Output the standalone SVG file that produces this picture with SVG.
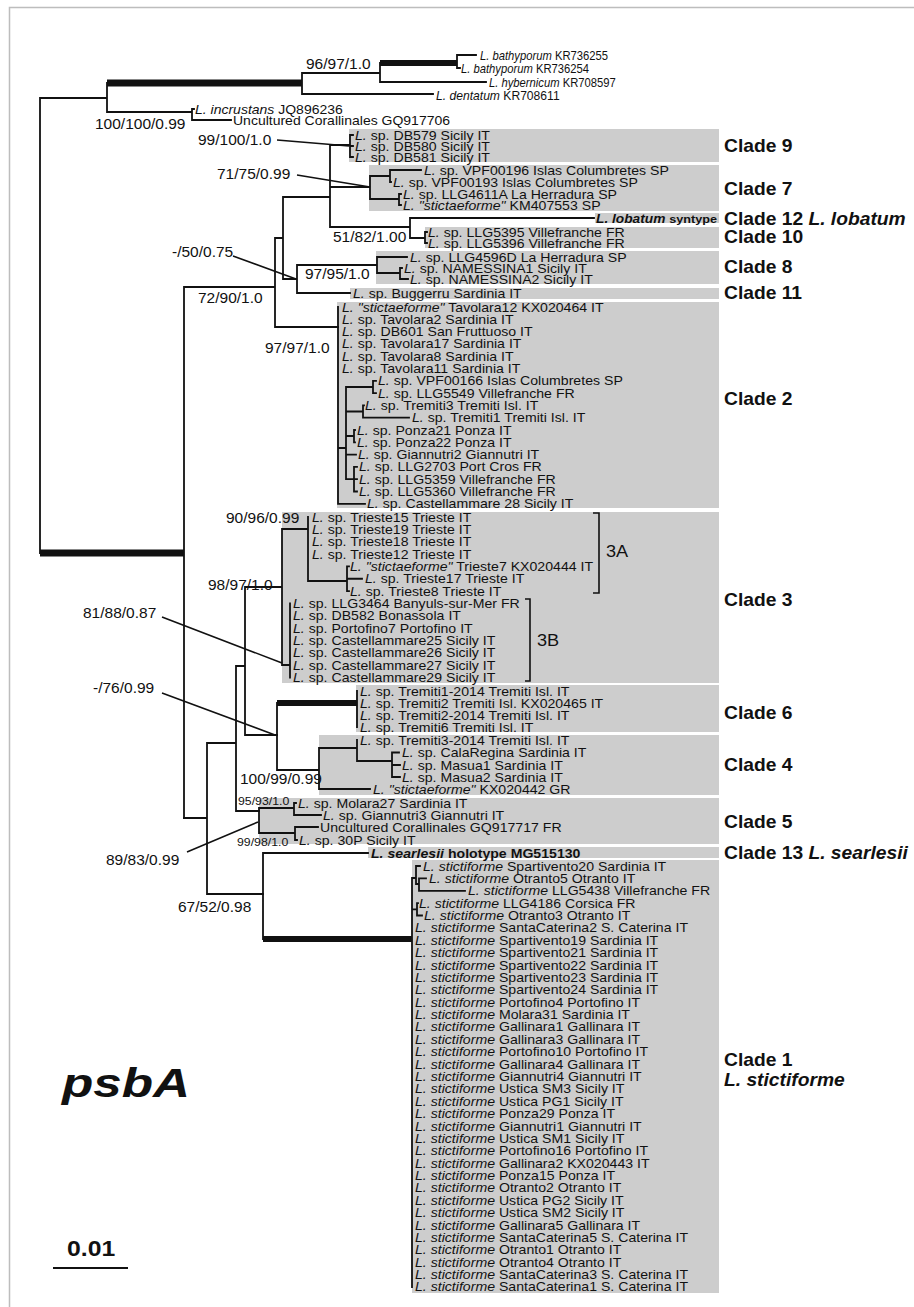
<svg xmlns="http://www.w3.org/2000/svg" width="914" height="1307" viewBox="0 0 914 1307">
<style>
text{font-family:"Liberation Sans",Arial,Helvetica,sans-serif;fill:#111}
.t{font-size:12.5px}
.i{font-style:italic}
.b{font-weight:bold}
.n{font-size:14.5px}
.ns{font-size:11.5px}
.c{font-size:17.5px;font-weight:bold}
.box{fill:#cdcdcd}
.br{fill:none;stroke:#111;stroke-width:1.8;stroke-linecap:square}
.thick{fill:none;stroke:#111;stroke-linecap:butt}
.ptr{fill:none;stroke:#111;stroke-width:1.6}
</style>
<rect x="0" y="0" width="914" height="1307" fill="#fff"/>
<path d="M9.5 1307V7.5H914" fill="none" stroke="#bdbdbd" stroke-width="1.5"/>

<g id="boxes">
<rect class="box" x="349" y="129" width="370" height="33"/>
<rect class="box" x="369" y="165" width="350" height="46"/>
<rect class="box" x="595" y="213" width="124" height="10"/>
<rect class="box" x="425" y="227" width="294" height="21"/>
<rect class="box" x="376" y="251" width="343" height="33"/>
<rect class="box" x="350" y="288" width="369" height="11"/>
<rect class="box" x="337" y="302" width="382" height="206"/>
<rect class="box" x="282" y="512" width="437" height="171"/>
<rect class="box" x="356" y="685" width="363" height="47"/>
<rect class="box" x="319" y="735" width="400" height="60"/>
<rect class="box" x="259" y="798" width="460" height="46"/>
<rect class="box" x="368" y="847" width="351" height="11"/>
<rect class="box" x="412" y="860" width="307" height="433"/>
</g>

<g id="connectors">
<path class="br" d="M40 98V553M40 98H107M107 83V112M107 112H192M192 109V120M192 109H194M192 120H231M302 73V94M302 73H380M302 94H433M380 63V82M380 82H486M457 55V68M457 55H476M457 68H460"/>
<path class="br" d="M184 287V818M184 287H275M275 238V327M275 238H283M275 327H338M283 197V279M283 197H330M283 279H297M330 145V227M330 145H350M330 187H370M330 227H410M350 135V157M350 135H353M350 146H353M350 157H353M370 176V199M370 176H390M370 199H399M390 170V182M390 170H421M390 182H391M399 194V205M399 194H401M399 205H401M410 218V238M410 218H594M410 238H425M425 232V243M425 232H427M425 243H427M297 265V293M297 265H377M297 293H350M377 257V273M377 257H407M377 273H400M400 268V279M400 268H402M400 279H408"/>
<path class="br" d="M338 307V503.8M338 503.8H365M338 448H346M346 387V479.2M346 387H373M346 411.5H363M346 436H354M346 454.6H356M346 479.2H354M373 380.8V393.1M373 380.8H376M373 393.1H376M363 405.4V417.7M363 405.4H364M363 417.7H409M354 430V442.3M354 430H355M354 442.3H355M354 466.9V491.5M354 466.9H357M354 479.2H357M354 491.5H357"/>
<path class="br" d="M184 818H207M207 743V894M207 743H236M207 894H263M236 666V811M236 666H245M236 811H259M245 587V735M245 587H282M245 735H277M282 529V665M282 529H308M282 665H290M308 517V581M308 581H347M347 566.4V591.1M347 566.4H349M347 578.75H362M347 591.1H349M290 603.45V677.55"/>
<path class="br" d="M277 703V770M277 770H319M357 691V727M319 748V789M319 748H357M319 789H370M357 740V761M357 761H392M392 752.5V777M392 752.5H399M392 765H400M392 777H400M259 808V833M259 808H294M259 833H295M294 803V815M294 803H296M294 815H321M295 827V840M295 827H318M295 840H297M263 853V939M263 853H368M412 878V1287M412 878H416M412 909.3H417M416 866V884M416 866H420M416 884H419M419 878.4V890.8M419 878.4H426M419 890.8H465M417 903.1V915.5M417 903.1H418M417 915.5H422"/>
<path class="thick" stroke-width="7" d="M107 83H302M40 553H184"/>
<path class="thick" stroke-width="6" d="M380 63H457M277 703H357M263 939H412"/>
<path class="ptr" d="M277 140L349 146M297 175L370 187M233 256L296 279M162 617L282 663M162 693L275 735M187 852L258 822"/>
<path class="ptr" stroke-width="1.5" d="M593 513H599V593H593M525 599H530V681H525"/>
<path d="M53 1268H128" stroke="#111" stroke-width="2.2"/>
</g>

<g id="support">
<text class="n" transform="translate(306 69) scale(1.07 1)">96/97/1.0</text>
<text class="n" transform="translate(95 129) scale(1.07 1)">100/100/0.99</text>
<text class="n" transform="translate(198 145) scale(1.07 1)">99/100/1.0</text>
<text class="n" transform="translate(217 179) scale(1.07 1)">71/75/0.99</text>
<text class="n" transform="translate(333 242) scale(1.07 1)">51/82/1.00</text>
<text class="n" transform="translate(172 257) scale(1.07 1)">-/50/0.75</text>
<text class="n" transform="translate(305 279) scale(1.07 1)">97/95/1.0</text>
<text class="n" transform="translate(198 303) scale(1.07 1)">72/90/1.0</text>
<text class="n" transform="translate(265 353) scale(1.07 1)">97/97/1.0</text>
<text class="n" transform="translate(226 523) scale(1.07 1)">90/96/0.99</text>
<text class="n" transform="translate(208 590) scale(1.07 1)">98/97/1.0</text>
<text class="n" transform="translate(83 618) scale(1.07 1)">81/88/0.87</text>
<text class="n" transform="translate(93 693) scale(1.07 1)">-/76/0.99</text>
<text class="n" transform="translate(240 784) scale(1.07 1)">100/99/0.99</text>
<text class="ns" transform="translate(238 805) scale(1.07 1)">95/93/1.0</text>
<text class="ns" transform="translate(237 846) scale(1.07 1)">99/98/1.0</text>
<text class="n" transform="translate(106 865) scale(1.07 1)">89/83/0.99</text>
<text class="n" transform="translate(178 912) scale(1.07 1)">67/52/0.98</text>
</g>

<g id="outgroup">
<text class="t" transform="translate(480 59.5) scale(0.9 1)"><tspan class="i">L. bathyporum</tspan> KR736255</text>
<text class="t" transform="translate(461 72.5) scale(0.9 1)"><tspan class="i">L. bathyporum</tspan> KR736254</text>
<text class="t" transform="translate(489 86.5) scale(0.9 1)"><tspan class="i">L. hybernicum</tspan> KR708597</text>
<text class="t" transform="translate(436 99.5) scale(0.97 1)"><tspan class="i">L. dentatum</tspan> KR708611</text>
<text class="t" transform="translate(195 113.5) scale(1.12 1)"><tspan class="i">L. incrustans</tspan> JQ896236</text>
<text class="t" transform="translate(233 124.5) scale(1.12 1)">Uncultured Corallinales GQ917706</text>
</g>

<g id="clade9">
<text class="t" transform="translate(355 139.5) scale(1.13 1)"><tspan class="i">L.</tspan> sp. DB579 Sicily IT</text>
<text class="t" transform="translate(355 150.5) scale(1.13 1)"><tspan class="i">L.</tspan> sp. DB580 Sicily IT</text>
<text class="t" transform="translate(355 161.5) scale(1.13 1)"><tspan class="i">L.</tspan> sp. DB581 Sicily IT</text>
<text class="c" transform="translate(724 152) scale(1.1 1)">Clade 9</text>
</g>

<g id="clade7">
<text class="t" transform="translate(424 174.5) scale(1.13 1)"><tspan class="i">L.</tspan> sp. VPF00196 Islas Columbretes SP</text>
<text class="t" transform="translate(393 186.5) scale(1.13 1)"><tspan class="i">L.</tspan> sp. VPF00193 Islas Columbretes SP</text>
<text class="t" transform="translate(403 198.5) scale(1.13 1)"><tspan class="i">L.</tspan> sp. LLG4611A La Herradura SP</text>
<text class="t" transform="translate(403 209.5) scale(1.13 1)"><tspan class="i">L. "stictaeforme"</tspan> KM407553 SP</text>
<text class="c" transform="translate(724 195) scale(1.1 1)">Clade 7</text>
</g>

<g id="clade12">
<text class="t b" transform="translate(596 222.5) scale(1.1 1)"><tspan class="i">L. lobatum</tspan> <tspan style="font-size:11.5px">syntype</tspan></text>
<text class="c" transform="translate(724 225) scale(1.1 1)">Clade 12 <tspan class="i">L. lobatum</tspan></text>
</g>

<g id="clade10">
<text class="t" transform="translate(428 236.5) scale(1.13 1)"><tspan class="i">L.</tspan> sp. LLG5395 Villefranche FR</text>
<text class="t" transform="translate(428 247.5) scale(1.13 1)"><tspan class="i">L.</tspan> sp. LLG5396 Villefranche FR</text>
<text class="c" transform="translate(724 243) scale(1.1 1)">Clade 10</text>
</g>

<g id="clade8">
<text class="t" transform="translate(410 261.5) scale(1.13 1)"><tspan class="i">L.</tspan> sp. LLG4596D La Herradura SP</text>
<text class="t" transform="translate(404 272.5) scale(1.13 1)"><tspan class="i">L.</tspan> sp. NAMESSINA1 Sicily IT</text>
<text class="t" transform="translate(410 283.5) scale(1.13 1)"><tspan class="i">L.</tspan> sp. NAMESSINA2 Sicily IT</text>
<text class="c" transform="translate(724 273) scale(1.1 1)">Clade 8</text>
</g>

<g id="clade11">
<text class="t" transform="translate(353 297.5) scale(1.13 1)"><tspan class="i">L.</tspan> sp. Buggerru Sardinia IT</text>
<text class="c" transform="translate(724 299) scale(1.1 1)">Clade 11</text>
</g>

<g id="clade2">
<text class="t" transform="translate(342 311.5) scale(1.13 1)"><tspan class="i">L. "stictaeforme"</tspan> Tavolara12 KX020464 IT</text>
<text class="t" transform="translate(342 323.8) scale(1.13 1)"><tspan class="i">L.</tspan> sp. Tavolara2 Sardinia IT</text>
<text class="t" transform="translate(342 336.1) scale(1.13 1)"><tspan class="i">L.</tspan> sp. DB601 San Fruttuoso IT</text>
<text class="t" transform="translate(342 348.4) scale(1.13 1)"><tspan class="i">L.</tspan> sp. Tavolara17 Sardinia IT</text>
<text class="t" transform="translate(342 360.7) scale(1.13 1)"><tspan class="i">L.</tspan> sp. Tavolara8 Sardinia IT</text>
<text class="t" transform="translate(342 373) scale(1.13 1)"><tspan class="i">L.</tspan> sp. Tavolara11 Sardinia IT</text>
<text class="t" transform="translate(378 385.3) scale(1.13 1)"><tspan class="i">L.</tspan> sp. VPF00166 Islas Columbretes SP</text>
<text class="t" transform="translate(378 397.6) scale(1.13 1)"><tspan class="i">L.</tspan> sp. LLG5549 Villefranche FR</text>
<text class="t" transform="translate(365 409.9) scale(1.13 1)"><tspan class="i">L.</tspan> sp. Tremiti3 Tremiti Isl. IT</text>
<text class="t" transform="translate(412 422.2) scale(1.13 1)"><tspan class="i">L.</tspan> sp. Tremiti1 Tremiti Isl. IT</text>
<text class="t" transform="translate(357 434.5) scale(1.13 1)"><tspan class="i">L.</tspan> sp. Ponza21 Ponza IT</text>
<text class="t" transform="translate(357 446.8) scale(1.13 1)"><tspan class="i">L.</tspan> sp. Ponza22 Ponza IT</text>
<text class="t" transform="translate(358 459.1) scale(1.13 1)"><tspan class="i">L.</tspan> sp. Giannutri2 Giannutri IT</text>
<text class="t" transform="translate(359 471.4) scale(1.13 1)"><tspan class="i">L.</tspan> sp. LLG2703 Port Cros FR</text>
<text class="t" transform="translate(359 483.7) scale(1.13 1)"><tspan class="i">L.</tspan> sp. LLG5359 Villefranche FR</text>
<text class="t" transform="translate(359 496) scale(1.13 1)"><tspan class="i">L.</tspan> sp. LLG5360 Villefranche FR</text>
<text class="t" transform="translate(367 508.3) scale(1.13 1)"><tspan class="i">L.</tspan> sp. Castellammare 28 Sicily IT</text>
<text class="c" transform="translate(724 405) scale(1.1 1)">Clade 2</text>
</g>

<g id="clade3">
<text class="t" transform="translate(312 521.5) scale(1.13 1)"><tspan class="i">L.</tspan> sp. Trieste15 Trieste IT</text>
<text class="t" transform="translate(312 533.9) scale(1.13 1)"><tspan class="i">L.</tspan> sp. Trieste19 Trieste IT</text>
<text class="t" transform="translate(312 546.2) scale(1.13 1)"><tspan class="i">L.</tspan> sp. Trieste18 Trieste IT</text>
<text class="t" transform="translate(312 558.5) scale(1.13 1)"><tspan class="i">L.</tspan> sp. Trieste12 Trieste IT</text>
<text class="t" transform="translate(350 570.9) scale(1.13 1)"><tspan class="i">L. "stictaeforme"</tspan> Trieste7 KX020444 IT</text>
<text class="t" transform="translate(365 583.2) scale(1.13 1)"><tspan class="i">L.</tspan> sp. Trieste17 Trieste IT</text>
<text class="t" transform="translate(350 595.6) scale(1.13 1)"><tspan class="i">L.</tspan> sp. Trieste8 Trieste IT</text>
<text class="t" transform="translate(293 608) scale(1.13 1)"><tspan class="i">L.</tspan> sp. LLG3464 Banyuls-sur-Mer FR</text>
<text class="t" transform="translate(293 620.3) scale(1.13 1)"><tspan class="i">L.</tspan> sp. DB582 Bonassola IT</text>
<text class="t" transform="translate(293 632.6) scale(1.13 1)"><tspan class="i">L.</tspan> sp. Portofino7 Portofino IT</text>
<text class="t" transform="translate(293 645) scale(1.13 1)"><tspan class="i">L.</tspan> sp. Castellammare25 Sicily IT</text>
<text class="t" transform="translate(293 657.3) scale(1.13 1)"><tspan class="i">L.</tspan> sp. Castellammare26 Sicily IT</text>
<text class="t" transform="translate(293 669.7) scale(1.13 1)"><tspan class="i">L.</tspan> sp. Castellammare27 Sicily IT</text>
<text class="t" transform="translate(293 682) scale(1.13 1)"><tspan class="i">L.</tspan> sp. Castellammare29 Sicily IT</text>
<text transform="translate(606 557) scale(1.1 1)" style="font-size:16.5px">3A</text>
<text transform="translate(537 646) scale(1.1 1)" style="font-size:16.5px">3B</text>
<text class="c" transform="translate(724 606) scale(1.1 1)">Clade 3</text>
</g>

<g id="clade6">
<text class="t" transform="translate(360 695.5) scale(1.13 1)"><tspan class="i">L.</tspan> sp. Tremiti1-2014 Tremiti Isl. IT</text>
<text class="t" transform="translate(360 707.5) scale(1.13 1)"><tspan class="i">L.</tspan> sp. Tremiti2 Tremiti Isl. KX020465 IT</text>
<text class="t" transform="translate(360 719.5) scale(1.13 1)"><tspan class="i">L.</tspan> sp. Tremiti2-2014 Tremiti Isl. IT</text>
<text class="t" transform="translate(360 731.5) scale(1.13 1)"><tspan class="i">L.</tspan> sp. Tremiti6 Tremiti Isl. IT</text>
<text class="c" transform="translate(724 719) scale(1.1 1)">Clade 6</text>
</g>

<g id="clade4">
<text class="t" transform="translate(360 744.5) scale(1.13 1)"><tspan class="i">L.</tspan> sp. Tremiti3-2014 Tremiti Isl. IT</text>
<text class="t" transform="translate(402 757) scale(1.13 1)"><tspan class="i">L.</tspan> sp. CalaRegina Sardinia IT</text>
<text class="t" transform="translate(402 769.5) scale(1.13 1)"><tspan class="i">L.</tspan> sp. Masua1 Sardinia IT</text>
<text class="t" transform="translate(402 781.5) scale(1.13 1)"><tspan class="i">L.</tspan> sp. Masua2 Sardinia IT</text>
<text class="t" transform="translate(373 793.5) scale(1.13 1)"><tspan class="i">L. "stictaeforme"</tspan> KX020442 GR</text>
<text class="c" transform="translate(724 771) scale(1.1 1)">Clade 4</text>
</g>

<g id="clade5">
<text class="t" transform="translate(298 807.5) scale(1.13 1)"><tspan class="i">L.</tspan> sp. Molara27 Sardinia IT</text>
<text class="t" transform="translate(323 819.5) scale(1.13 1)"><tspan class="i">L.</tspan> sp. Giannutri3 Giannutri IT</text>
<text class="t" transform="translate(320 831.5) scale(1.13 1)">Uncultured Corallinales GQ917717 FR</text>
<text class="t" transform="translate(299 844.5) scale(1.13 1)"><tspan class="i">L.</tspan> sp. 30P Sicily IT</text>
<text class="c" transform="translate(724 828) scale(1.1 1)">Clade 5</text>
</g>

<g id="clade13">
<text class="t b" transform="translate(371 857.5) scale(1.13 1)"><tspan class="i">L. searlesii</tspan> holotype MG515130</text>
<text class="c" transform="translate(724 859) scale(1.1 1)">Clade 13 <tspan class="i">L. searlesii</tspan></text>
</g>

<g id="clade1">
<text class="t" transform="translate(423 870.5) scale(1.13 1)"><tspan class="i">L. stictiforme</tspan> Spartivento20 Sardinia IT</text>
<text class="t" transform="translate(429 882.9) scale(1.13 1)"><tspan class="i">L. stictiforme</tspan> Otranto5 Otranto IT</text>
<text class="t" transform="translate(468 895.3) scale(1.13 1)"><tspan class="i">L. stictiforme</tspan> LLG5438 Villefranche FR</text>
<text class="t" transform="translate(419 907.6) scale(1.13 1)"><tspan class="i">L. stictiforme</tspan> LLG4186 Corsica FR</text>
<text class="t" transform="translate(424 920) scale(1.13 1)"><tspan class="i">L. stictiforme</tspan> Otranto3 Otranto IT</text>
<text class="t" transform="translate(415 932.4) scale(1.13 1)"><tspan class="i">L. stictiforme</tspan> SantaCaterina2 S. Caterina IT</text>
<text class="t" transform="translate(415 944.8) scale(1.13 1)"><tspan class="i">L. stictiforme</tspan> Spartivento19 Sardinia IT</text>
<text class="t" transform="translate(415 957.2) scale(1.13 1)"><tspan class="i">L. stictiforme</tspan> Spartivento21 Sardinia IT</text>
<text class="t" transform="translate(415 969.5) scale(1.13 1)"><tspan class="i">L. stictiforme</tspan> Spartivento22 Sardinia IT</text>
<text class="t" transform="translate(415 981.9) scale(1.13 1)"><tspan class="i">L. stictiforme</tspan> Spartivento23 Sardinia IT</text>
<text class="t" transform="translate(415 994.3) scale(1.13 1)"><tspan class="i">L. stictiforme</tspan> Spartivento24 Sardinia IT</text>
<text class="t" transform="translate(415 1006.7) scale(1.13 1)"><tspan class="i">L. stictiforme</tspan> Portofino4 Portofino IT</text>
<text class="t" transform="translate(415 1019.1) scale(1.13 1)"><tspan class="i">L. stictiforme</tspan> Molara31 Sardinia IT</text>
<text class="t" transform="translate(415 1031.4) scale(1.13 1)"><tspan class="i">L. stictiforme</tspan> Gallinara1 Gallinara IT</text>
<text class="t" transform="translate(415 1043.8) scale(1.13 1)"><tspan class="i">L. stictiforme</tspan> Gallinara3 Gallinara IT</text>
<text class="t" transform="translate(415 1056.2) scale(1.13 1)"><tspan class="i">L. stictiforme</tspan> Portofino10 Portofino IT</text>
<text class="t" transform="translate(415 1068.6) scale(1.13 1)"><tspan class="i">L. stictiforme</tspan> Gallinara4 Gallinara IT</text>
<text class="t" transform="translate(415 1081) scale(1.13 1)"><tspan class="i">L. stictiforme</tspan> Giannutri4 Giannutri IT</text>
<text class="t" transform="translate(415 1093.3) scale(1.13 1)"><tspan class="i">L. stictiforme</tspan> Ustica SM3 Sicily IT</text>
<text class="t" transform="translate(415 1105.7) scale(1.13 1)"><tspan class="i">L. stictiforme</tspan> Ustica PG1 Sicily IT</text>
<text class="t" transform="translate(415 1118.1) scale(1.13 1)"><tspan class="i">L. stictiforme</tspan> Ponza29 Ponza IT</text>
<text class="t" transform="translate(415 1130.5) scale(1.13 1)"><tspan class="i">L. stictiforme</tspan> Giannutri1 Giannutri IT</text>
<text class="t" transform="translate(415 1142.9) scale(1.13 1)"><tspan class="i">L. stictiforme</tspan> Ustica SM1 Sicily IT</text>
<text class="t" transform="translate(415 1155.2) scale(1.13 1)"><tspan class="i">L. stictiforme</tspan> Portofino16 Portofino IT</text>
<text class="t" transform="translate(415 1167.6) scale(1.13 1)"><tspan class="i">L. stictiforme</tspan> Gallinara2 KX020443 IT</text>
<text class="t" transform="translate(415 1180) scale(1.13 1)"><tspan class="i">L. stictiforme</tspan> Ponza15 Ponza IT</text>
<text class="t" transform="translate(415 1192.4) scale(1.13 1)"><tspan class="i">L. stictiforme</tspan> Otranto2 Otranto IT</text>
<text class="t" transform="translate(415 1204.8) scale(1.13 1)"><tspan class="i">L. stictiforme</tspan> Ustica PG2 Sicily IT</text>
<text class="t" transform="translate(415 1217.1) scale(1.13 1)"><tspan class="i">L. stictiforme</tspan> Ustica SM2 Sicily IT</text>
<text class="t" transform="translate(415 1229.5) scale(1.13 1)"><tspan class="i">L. stictiforme</tspan> Gallinara5 Gallinara IT</text>
<text class="t" transform="translate(415 1241.9) scale(1.13 1)"><tspan class="i">L. stictiforme</tspan> SantaCaterina5 S. Caterina IT</text>
<text class="t" transform="translate(415 1254.3) scale(1.13 1)"><tspan class="i">L. stictiforme</tspan> Otranto1 Otranto IT</text>
<text class="t" transform="translate(415 1266.7) scale(1.13 1)"><tspan class="i">L. stictiforme</tspan> Otranto4 Otranto IT</text>
<text class="t" transform="translate(415 1279) scale(1.13 1)"><tspan class="i">L. stictiforme</tspan> SantaCaterina3 S. Caterina IT</text>
<text class="t" transform="translate(415 1291.4) scale(1.13 1)"><tspan class="i">L. stictiforme</tspan> SantaCaterina1 S. Caterina IT</text>
<text class="c" transform="translate(724 1066) scale(1.1 1)">Clade 1</text>
<text class="c i" transform="translate(724 1086) scale(1.1 1)">L. stictiforme</text>
</g>

<g id="title">
<text class="b i" transform="translate(62 1097) scale(1.28 1)" style="font-size:40px">psbA</text>
</g>
<g id="scalebar">
<text class="b" transform="translate(67 1256) scale(1.1 1)" style="font-size:22.5px">0.01</text>
</g>
</svg>
